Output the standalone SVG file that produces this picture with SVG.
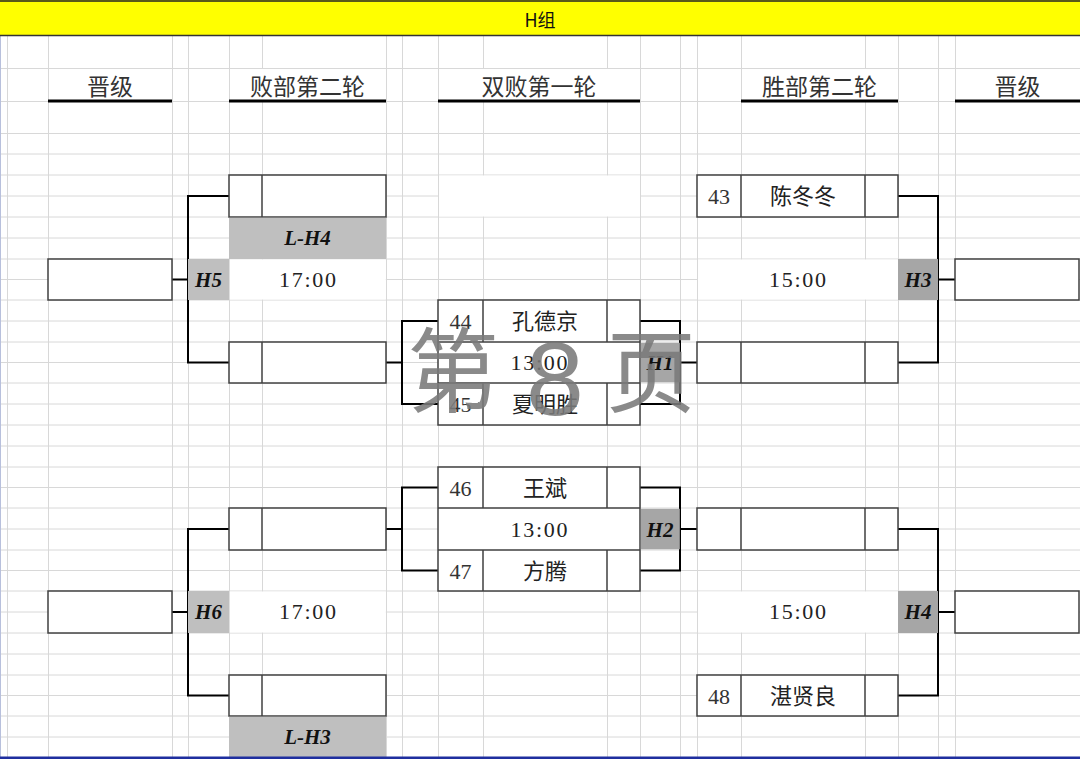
<svg xmlns="http://www.w3.org/2000/svg" width="1080" height="759" viewBox="0 0 1080 759">
<style>
.grid{stroke:#d8d8d8;stroke-width:1;fill:none}
.box{fill:#fff;stroke:#404040;stroke-width:1.5}
.dv{stroke:#404040;stroke-width:1.5;fill:none}
.conn{stroke:#000;stroke-width:2;fill:none}
.wh{fill:#fff}
.g1{fill:#bfbfbf}
.g2{fill:#a6a6a6}
.hd{font-family:"Noto Sans CJK SC",sans-serif;font-size:23px;fill:#333;text-anchor:middle}
.nm{font-family:"Noto Sans CJK SC",sans-serif;font-size:22px;fill:#222;text-anchor:middle}
.num{font-family:"Liberation Serif",serif;font-size:22px;fill:#333;text-anchor:middle}
.tm{font-family:"Liberation Serif",serif;font-size:22px;fill:#222;text-anchor:middle}
.lab{font-family:"Liberation Serif",serif;font-size:21px;font-weight:bold;font-style:italic;fill:#111;text-anchor:middle}
.ul{stroke:#000;stroke-width:3}
.wm{fill:#7a7a7a;fill-opacity:0.88;text-anchor:middle}
</style>
<rect x="0" y="0" width="1080" height="759" fill="#fff"/>
<g id="grid">
<path class="grid" d="M7.5,36V759M48.5,36V759M172.5,36V759M188.5,36V759M229.5,36V759M262.5,36V759M386.5,36V759M402.5,36V759M438.5,36V759M483.5,36V759M607.5,36V759M640.5,36V759M680.5,36V759M697.5,36V759M741.5,36V759M865.5,36V759M898.5,36V759M938.5,36V759M955.5,36V759"/>
<path class="grid" d="M0,68.5H1080M0,101.5H1080M0,133.5H1080M0,154H1080M0,175H1080M0,196H1080M0,217H1080M0,238H1080M0,259H1080M0,279.5H1080M0,300H1080M0,321H1080M0,342H1080M0,362.5H1080M0,383H1080M0,404H1080M0,425H1080M0,446H1080M0,467H1080M0,487.5H1080M0,508H1080M0,529H1080M0,550H1080M0,570.5H1080M0,591H1080M0,612H1080M0,633H1080M0,654H1080M0,675H1080M0,695.5H1080M0,716H1080M0,737H1080"/>
<rect class="wh" x="439" y="175.5" width="201" height="41"/>
<line x1="0.5" y1="36" x2="0.5" y2="759" stroke="#b8c0dc" stroke-width="1"/>
</g>
<g id="title">
<rect x="0" y="0" width="1080" height="36" fill="#ffff00"/>
<line x1="0" y1="1" x2="1080" y2="1" stroke="#222" stroke-width="1.5"/>
<line x1="0" y1="35.5" x2="1080" y2="35.5" stroke="#333" stroke-width="1.5"/>
<text x="540" y="27" font-family="Noto Sans CJK SC, sans-serif" font-size="18" fill="#111" text-anchor="middle">H组</text>
</g>
<g id="headers">
<rect class="wh" x="49" y="69" width="123" height="32"/>
<rect class="wh" x="230" y="69" width="156" height="32"/>
<rect class="wh" x="439" y="69" width="201" height="32"/>
<rect class="wh" x="742" y="69" width="156" height="32"/>
<rect class="wh" x="956" y="69" width="124" height="32"/>
<text class="hd" x="110" y="95">晋级</text>
<text class="hd" x="307.5" y="95">败部第二轮</text>
<text class="hd" x="539" y="95">双败第一轮</text>
<text class="hd" x="819.5" y="95">胜部第二轮</text>
<text class="hd" x="1017.5" y="95">晋级</text>
<path class="ul" d="M48,101H172M229,101H386M438,101H640M741,101H898M955,101H1080"/>
</g>
<g id="connectors">
<path class="conn" d="M229,196H188V362.5H229M172,279.5H188"/>
<path class="conn" d="M229,529H188V695.5H229M172,612H188"/>
<path class="conn" d="M438,321H402V404H438M386,362.5H402"/>
<path class="conn" d="M438,487.5H402V570.5H438M386,529H402"/>
<path class="conn" d="M640,321H680V404H640M680,362.5H697"/>
<path class="conn" d="M640,487.5H680V570.5H640M680,529H697"/>
<path class="conn" d="M898,196H938V362.5H898M938,279.5H955"/>
<path class="conn" d="M898,529H938V695.5H898M938,612H955"/>
</g>
<g id="H5">
<rect class="box" x="229" y="175" width="157" height="42"/>
<path class="dv" d="M262,175V217"/>
<rect class="g1" x="229" y="217.8" width="157" height="41.2"/>
<text class="lab" x="307.5" y="245">L-H4</text>
<rect class="g1" x="188" y="259" width="41" height="41"/>
<text class="lab" x="208.5" y="287">H5</text>
<rect class="wh" x="229.8" y="259.5" width="156" height="40"/>
<text class="tm" x="307.5" y="287" textLength="57" lengthAdjust="spacing">17:00</text>
<rect class="box" x="229" y="342" width="157" height="41"/>
<path class="dv" d="M262,342V383"/>
</g>
<g id="W-H5">
<rect class="box" x="48" y="259" width="124" height="41"/>
</g>
<g id="H6">
<rect class="box" x="229" y="508" width="157" height="42"/>
<path class="dv" d="M262,508V550"/>
<rect class="g1" x="188" y="591" width="41" height="42"/>
<text class="lab" x="208.5" y="619">H6</text>
<rect class="wh" x="229.8" y="591.5" width="156" height="41"/>
<text class="tm" x="307.5" y="619" textLength="57" lengthAdjust="spacing">17:00</text>
<rect class="box" x="229" y="675" width="157" height="41"/>
<path class="dv" d="M262,675V716"/>
<rect class="g1" x="229" y="716.8" width="157" height="41.2"/>
<text class="lab" x="307.5" y="744">L-H3</text>
</g>
<g id="W-H6">
<rect class="box" x="48" y="591" width="124" height="42"/>
</g>
<g id="H1">
<rect class="box" x="438" y="300" width="202" height="125"/>
<path class="dv" d="M438,342H640M438,383H640M483,300V342M607,300V342M483,383V425M607,383V425"/>
<rect class="g2" x="640.8" y="342.8" width="39" height="39.5"/>
<text class="num" x="460.5" y="329">44</text>
<text class="nm" x="545" y="329">孔德京</text>
<text class="tm" x="539" y="370" textLength="57" lengthAdjust="spacing">13:00</text>
<text class="lab" x="660" y="370">H1</text>
<text class="num" x="460.5" y="412">45</text>
<text class="nm" x="545" y="412">夏明胜</text>
</g>
<g id="H2">
<rect class="box" x="438" y="467" width="202" height="124"/>
<path class="dv" d="M438,508H640M438,550H640M483,467V508M607,467V508M483,550V591M607,550V591"/>
<rect class="g2" x="640.8" y="508.8" width="39" height="40.5"/>
<text class="num" x="460.5" y="496">46</text>
<text class="nm" x="545" y="496">王斌</text>
<text class="tm" x="539" y="537" textLength="57" lengthAdjust="spacing">13:00</text>
<text class="lab" x="660" y="537">H2</text>
<text class="num" x="460.5" y="579">47</text>
<text class="nm" x="545" y="579">方腾</text>
</g>
<g id="H3">
<rect class="box" x="697" y="175" width="201" height="42"/>
<path class="dv" d="M741,175V217M865,175V217"/>
<text class="num" x="719" y="204">43</text>
<text class="nm" x="803" y="204">陈冬冬</text>
<rect class="wh" x="698" y="259.5" width="200" height="40"/>
<text class="tm" x="797.5" y="287" textLength="57" lengthAdjust="spacing">15:00</text>
<rect class="g2" x="898" y="259" width="40" height="41"/>
<text class="lab" x="918" y="287">H3</text>
<rect class="box" x="697" y="342" width="201" height="41"/>
<path class="dv" d="M741,342V383M865,342V383"/>
</g>
<g id="W-H3">
<rect class="box" x="955" y="259" width="124" height="41"/>
</g>
<g id="H4">
<rect class="box" x="697" y="508" width="201" height="42"/>
<path class="dv" d="M741,508V550M865,508V550"/>
<rect class="wh" x="698" y="591.5" width="200" height="41"/>
<text class="tm" x="797.5" y="619" textLength="57" lengthAdjust="spacing">15:00</text>
<rect class="g2" x="898" y="591" width="40" height="42"/>
<text class="lab" x="918" y="619">H4</text>
<rect class="box" x="697" y="675" width="201" height="41"/>
<path class="dv" d="M741,675V716M865,675V716"/>
<text class="num" x="719" y="704">48</text>
<text class="nm" x="803" y="704">湛贤良</text>
</g>
<g id="W-H4">
<rect class="box" x="955" y="591" width="124" height="42"/>
</g>
<g id="watermark" class="wm">
<text x="453" y="405" font-family="Noto Sans CJK SC, sans-serif" font-size="92">第</text>
<text x="555" y="415" font-family="Liberation Sans, sans-serif" font-size="104">8</text>
<text x="651" y="405" font-family="Noto Sans CJK SC, sans-serif" font-size="90">页</text>
</g>
<rect x="0" y="756.5" width="1080" height="2.5" fill="#1f2f9f"/>
</svg>
